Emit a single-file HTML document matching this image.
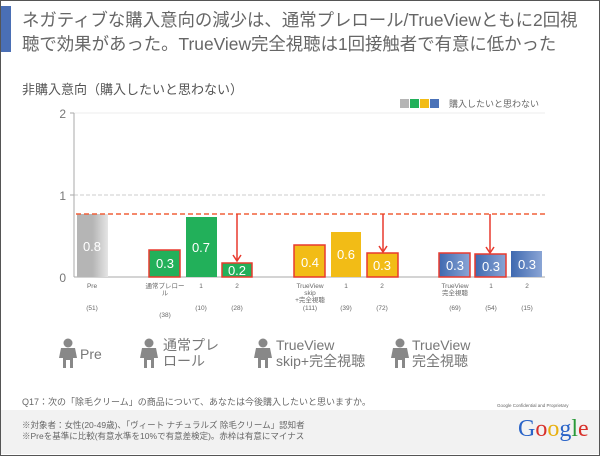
<!DOCTYPE html>
<html><head><meta charset="utf-8"><style>
body{margin:0;width:600px;height:456px;overflow:hidden;background:#fff;font-family:"Liberation Sans","Noto Sans CJK JP",sans-serif}
.frame{position:absolute;left:0;top:0;width:598px;height:454px;border:1px solid #555;}
.t{position:absolute;white-space:nowrap}
</style></head><body>
<div class="frame"></div>
<div style="position:absolute;left:1px;top:6px;width:10px;height:46px;background:#4a6fb5"></div>
<div class="t" style="left:22px;top:8px;font-size:17.4px;color:#666;line-height:24px">ネガティブな購入意向の減少は、通常プレロール/TrueViewともに2回視<br>聴で効果があった。TrueView完全視聴は1回接触者で有意に低かった</div>
<div class="t" style="left:22px;top:79px;font-size:13px;color:#555">非購入意向（購入したいと思わない）</div>
<svg style="position:absolute;left:0;top:0" width="600" height="456">
<defs>
<linearGradient id="gp" x1="0" x2="1"><stop offset="0.5" stop-color="#b5b5b5"/><stop offset="1" stop-color="#e5e5e5"/></linearGradient>
<linearGradient id="gb" x1="0" x2="1"><stop offset="0" stop-color="#3f69b0"/><stop offset="1" stop-color="#8aa5d5"/></linearGradient>
</defs>
<line x1="74" y1="113" x2="545" y2="113" stroke="#eee"/>
<line x1="74" y1="195" x2="545" y2="195" stroke="#ccc" stroke-dasharray="4,2"/>
<line x1="74" y1="113" x2="74" y2="277" stroke="#aaa"/>
<line x1="70" y1="113" x2="74" y2="113" stroke="#aaa"/>
<line x1="70" y1="195" x2="74" y2="195" stroke="#aaa"/>
<line x1="74" y1="277" x2="545" y2="277" stroke="#aaa"/>
<g font-size="12" fill="#777" text-anchor="end"><text x="66" y="118">2</text><text x="66" y="200">1</text><text x="66" y="282">0</text></g>
<rect x="400" y="99" width="9" height="9" fill="#b5b5b5"/><rect x="410" y="99" width="9" height="9" fill="#22b05a"/><rect x="420" y="99" width="9" height="9" fill="#f2bc16"/><rect x="430" y="99" width="9" height="9" fill="#4a72b8"/>
<text x="449" y="107" font-size="9" fill="#666">購入したいと思わない</text>
<rect x="77" y="214" width="31" height="63" fill="url(#gp)"/>
<rect x="149" y="250" width="31" height="27" fill="#22b05a" stroke="#e83a2e" stroke-width="1.5"/>
<rect x="186" y="217" width="31" height="60" fill="#22b05a"/>
<rect x="222" y="263" width="30" height="14" fill="#22b05a" stroke="#e83a2e" stroke-width="1.5"/>
<rect x="294" y="245" width="31" height="32" fill="#f2bc16" stroke="#e83a2e" stroke-width="1.5"/>
<rect x="331" y="232" width="30" height="45" fill="#f2bc16"/>
<rect x="367" y="253" width="31" height="24" fill="#f2bc16" stroke="#e83a2e" stroke-width="1.5"/>
<rect x="439" y="253" width="31" height="24" fill="url(#gb)" stroke="#e83a2e" stroke-width="1.5"/>
<rect x="475" y="254" width="31" height="23" fill="url(#gb)" stroke="#e83a2e" stroke-width="1.5"/>
<rect x="511" y="251" width="31" height="26" fill="url(#gb)"/>
<line x1="76" y1="214" x2="545" y2="214" stroke="#f0603a" stroke-width="1.5" stroke-dasharray="5,3"/>
<g stroke="#e83a2e" stroke-width="1.5" fill="none"><path d="M237 214V261M233 255l4 6 4-6"/><path d="M383 214V252M379 246l4 6 4-6"/><path d="M490 214V253M486 247l4 6 4-6"/></g>
<g font-size="13" fill="#fff" text-anchor="middle">
<text x="92" y="251">0.8</text><text x="165" y="268">0.3</text><text x="201" y="252">0.7</text><text x="237" y="275">0.2</text>
<text x="310" y="267">0.4</text><text x="346" y="259">0.6</text><text x="382" y="270">0.3</text>
<text x="455" y="270">0.3</text><text x="491" y="271">0.3</text><text x="527" y="269">0.3</text></g>
<g font-size="6.5" fill="#666" text-anchor="middle">
<text x="92" y="288">Pre</text><text x="165" y="288">通常プレロー</text><text x="165" y="295">ル</text><text x="201" y="288">1</text><text x="237" y="288">2</text>
<text x="310" y="288">TrueView</text><text x="310" y="295">skip</text><text x="310" y="302">+完全視聴</text><text x="346" y="288">1</text><text x="382" y="288">2</text>
<text x="455" y="288">TrueView</text><text x="455" y="295">完全視聴</text><text x="491" y="288">1</text><text x="527" y="288">2</text>
<text x="92" y="310">(51)</text><text x="165" y="317">(38)</text><text x="201" y="310">(10)</text><text x="237" y="310">(28)</text>
<text x="310" y="310">(111)</text><text x="346" y="310">(39)</text><text x="382" y="310">(72)</text>
<text x="455" y="310">(69)</text><text x="491" y="310">(54)</text><text x="527" y="310">(15)</text></g>
<g fill="#888" id="ic">
<circle cx="68" cy="343" r="4.5"/><path d="M61 348h14l2 10h-4v10h-3v-8h-4v8h-3v-10h-4z"/>
</g>
<use href="#ic" x="81"/><use href="#ic" x="195"/><use href="#ic" x="332"/>
</svg>
<div class="t" style="left:80px;top:346px;font-size:14px;color:#777">Pre</div>
<div class="t" style="left:163px;top:337px;font-size:14px;color:#777;line-height:16px">通常プレ<br>ロール</div>
<div class="t" style="left:276px;top:337px;font-size:14px;color:#777;line-height:16px">TrueView<br>skip+完全視聴</div>
<div class="t" style="left:412px;top:337px;font-size:14px;color:#777;line-height:16px">TrueView<br>完全視聴</div>
<div class="t" style="left:22px;top:395px;font-size:9px;color:#666">Q17：次の「除毛クリーム」の商品について、あなたは今後購入したいと思いますか。</div>
<div class="t" style="left:497px;top:403px;font-size:4.5px;color:#666">Google Confidential and Proprietary</div>
<div style="position:absolute;left:1px;top:410px;width:598px;height:44px;background:#f2f2f2"></div>
<div class="t" style="left:22px;top:420px;font-size:8.5px;color:#666;line-height:11px">※対象者：女性(20-49歳)、「ヴィート ナチュラルズ 除毛クリーム」認知者<br>※Preを基準に比較(有意水準を10%で有意差検定)。赤枠は有意にマイナス</div>
<div class="t" style="left:518px;top:416px;font-size:24px;font-family:'Liberation Serif',serif"><span style="color:#2a64c8">G</span><span style="color:#d8302a">o</span><span style="color:#e8b010">o</span><span style="color:#2a64c8">g</span><span style="color:#2a9a3a">l</span><span style="color:#d8302a">e</span></div>
</body></html>
